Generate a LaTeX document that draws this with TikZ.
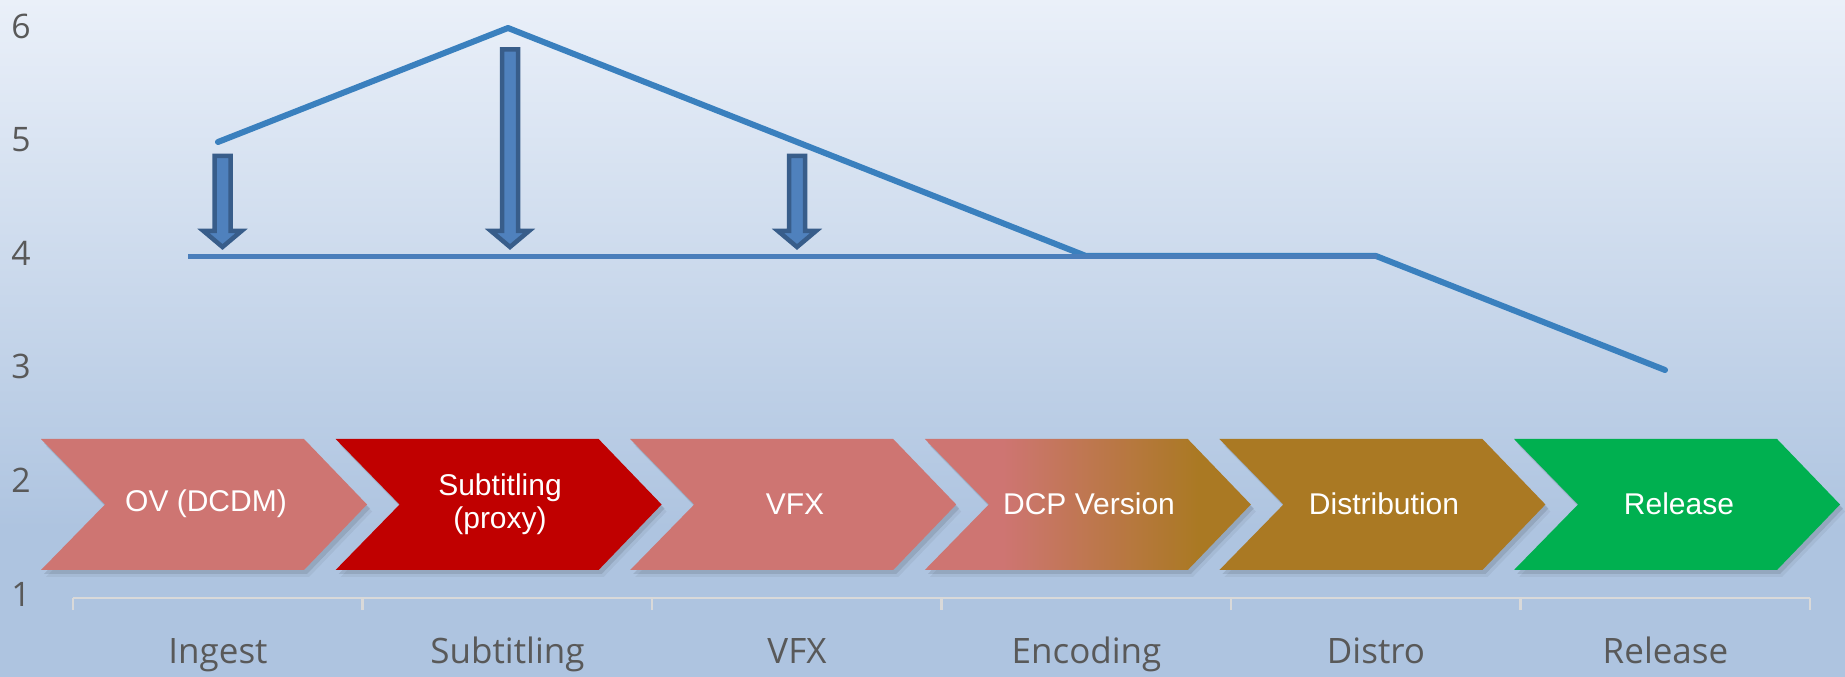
\documentclass[tikz,border=0pt]{standalone}
\usepackage{fontspec}
\setmainfont{Liberation Sans}
\newfontfamily\axisfont{Open Sans}

\definecolor{bgtop}{HTML}{EAF0F9}
\definecolor{bgbot}{HTML}{AEC4E0}
\definecolor{rose}{HTML}{CE7572}
\definecolor{deepred}{HTML}{C00000}
\definecolor{gold}{HTML}{AA7923}
\definecolor{relgreen}{HTML}{00B050}
\definecolor{seriesblue}{HTML}{3A80BE}
\definecolor{shapeline}{HTML}{4A7EBB}
\definecolor{arrowfill}{HTML}{4F81BD}
\definecolor{arrowedge}{HTML}{385D8A}
\definecolor{axisgray}{HTML}{595959}
\definecolor{axisline}{HTML}{D9D9D9}

% soft vertical backdrop: light at the top, settling to a flat blue lower down
\pgfdeclareverticalshading{backdrop}{100bp}{color(0bp)=(bgbot); color(25bp)=(bgbot); color(36bp)=(bgbot); color(75bp)=(bgtop); color(100bp)=(bgtop)}
% rose-to-gold blend for the encoding step
\pgfdeclarehorizontalshading{rosegold}{100bp}{color(0bp)=(rose); color(25bp)=(rose); color(37bp)=(rose); color(67bp)=(gold); color(100bp)=(gold)}

% chevron outline with its left edge at x = #1
\newcommand\chevronpath[1]{(#1,439) -- ++(263,0) -- ++(63,65.5) -- ++(-63,65.5) -- ++(-263,0) -- ++(64,-65.5) -- cycle}

\begin{document}
\begin{tikzpicture}[x=0.4pt,y=-0.4pt,
  catlabel/.style={font=\axisfont\fontsize{14}{16}\selectfont, text=axisgray, anchor=base},
  numlabel/.style={font=\axisfont\fontsize{13.5}{16}\selectfont, text=axisgray},
  chevtext/.style={font=\fontsize{12}{13.2}\selectfont, text=white, align=center},
  seriesline/.style={draw=seriesblue, line width=2.4pt, line cap=round, line join=round},
  levelline/.style={draw=shapeline, line width=2.3pt},
  downarrow/.style={fill=arrowfill, draw=arrowedge, line width=1.8pt, line join=miter},
  chevshadow/.style={fill=black, opacity=0.1},
]
\path[use as bounding box] (0,0) rectangle (1845,677);
\shade[shading=backdrop] (0,0) rectangle (1845,677);

% value axis numbers
\foreach \v in {1,...,6}
  \node[numlabel] (num\v) at (21,{26+113.6*(6-\v)}) {\v};

% category axis
\draw[axisline, line width=1pt] (73,598) -- (1810,598);
\foreach \k in {0,...,6}
  \draw[axisline, line width=1pt] ({73+289.5*\k},598) -- ++(0,12);
\foreach \k/\name in {0/Ingest,1/Subtitling,2/VFX,3/Encoding,4/Distro,5/Release}
  \node[catlabel] (cat\k) at ({218+289.5*\k},663) {\name};

% process chevrons
\foreach \i in {0,...,5}{
  \pgfmathsetmacro\L{41+294.6*\i}
  \fill[chevshadow, shift={(3,4)}] \chevronpath{\L};
  \fill[black, opacity=0.05, shift={(5,7)}] \chevronpath{\L};
}
\fill[rose]     \chevronpath{41};
\fill[deepred]  \chevronpath{335.6};
\fill[rose]     \chevronpath{630.2};
\shade[shading=rosegold] \chevronpath{924.8};
\fill[gold]     \chevronpath{1219.4};
\fill[relgreen] \chevronpath{1514};

\node[chevtext] (ov)   at (206,504)    {OV (DCDM)};
\node[chevtext] (sub)  at (500,504)    {Subtitling\\(proxy)};
\node[chevtext] (vfx)  at (795,504)    {VFX};
\node[chevtext] (dcp)  at (1089,504)   {DCP Version};
\node[chevtext] (dist) at (1384,504)   {Distribution};
\node[chevtext] (rel)  at (1679,504)   {Release};

% data series
\coordinate (s1) at (218,142);
\coordinate (s2) at (508,28);
\coordinate (s3) at (797,142);
\coordinate (s4) at (1086,256);
\coordinate (s5) at (1376,256);
\coordinate (s6) at (1665,370);
\draw[seriesline] (s1) -- (s2) -- (s3) -- (s4) -- (s5) -- (s6);

% reference level
\coordinate (lv0) at (188,256.5);
\coordinate (lv1) at (1377,256.5);
\draw[levelline] (lv0) -- (lv1);

% downward block arrows
\foreach \c/\t in {222.5/156, 510/49.5, 797/156}
  \draw[downarrow] ({\c-8},\t) -- ({\c+8},\t) -- ({\c+8},231) -- ({\c+19},231)
     -- (\c,247) -- ({\c-19},231) -- ({\c-8},231) -- cycle;
\end{tikzpicture}
\end{document}
